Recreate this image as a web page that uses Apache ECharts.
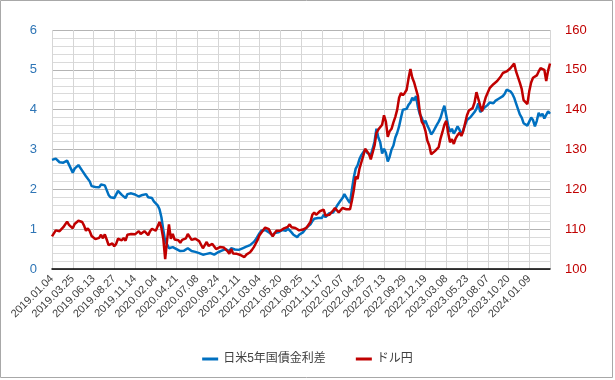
<!DOCTYPE html>
<html><head><meta charset="utf-8">
<script src="https://cdn.jsdelivr.net/npm/echarts@6/dist/echarts.min.js"></script>
<style>html,body{margin:0;padding:0;background:#fff}#c{width:615px;height:380px}</style>
</head><body><div id="c"></div>
<script>
// Tick labels on the x axis (one every 11 data points)
const tickLabels = ['2019.01.04','2019.03.25','2019.06.13','2019.08.27','2019.11.14','2020.02.04','2020.04.21','2020.07.08','2020.09.24','2020.12.11','2021.03.04','2021.05.20','2021.08.25','2021.11.17','2022.02.07','2022.04.25','2022.07.13','2022.09.29','2022.12.19','2023.03.08','2023.05.23','2023.08.07','2023.10.20','2024.01.09'];
const STEP = 11;

// 日米5年国債金利差 (%), left axis
const spread = [
2.74,2.70,2.77,2.72,2.68,2.64,2.67,2.65,2.72,2.62,2.60,
2.42,2.52,2.55,2.61,2.56,2.47,2.44,2.33,2.36,2.20,2.08,
2.12,2.06,2.10,2.05,2.12,2.08,2.10,1.98,1.86,1.80,1.83,
1.78,1.80,1.96,1.98,1.86,1.82,1.78,1.88,1.87,1.90,1.89,
1.87,1.84,1.82,1.80,1.86,1.90,1.88,1.80,1.76,1.78,1.70,
1.66,1.60,1.50,1.30,0.98,0.70,0.62,0.52,0.48,0.55,0.50,
0.50,0.47,0.45,0.48,0.46,0.44,0.52,0.55,0.45,0.42,0.43,
0.42,0.40,0.38,0.36,0.33,0.38,0.37,0.40,0.38,0.36,0.38,
0.42,0.43,0.46,0.44,0.50,0.47,0.45,0.52,0.48,0.49,0.50,
0.48,0.50,0.52,0.55,0.56,0.58,0.60,0.64,0.68,0.74,0.82,
0.90,0.96,1.00,0.98,0.96,0.92,0.88,0.84,0.90,0.94,0.92,
0.95,0.98,1.00,0.96,1.02,0.98,0.92,0.86,0.82,0.80,0.86,
0.90,0.92,0.96,1.04,1.08,1.12,1.20,1.26,1.22,1.28,1.32,
1.28,1.36,1.30,1.34,1.40,1.36,1.42,1.48,1.58,1.62,1.72,
1.78,1.88,1.80,1.72,1.66,2.00,2.30,2.52,2.60,2.76,2.86,
2.88,3.00,2.92,2.90,2.86,3.02,3.20,3.52,3.30,3.18,2.90,
3.02,2.92,2.70,2.82,3.00,3.10,3.30,3.42,3.58,3.80,4.00,
3.96,4.02,4.12,4.18,4.30,4.24,4.34,4.06,3.88,3.80,3.66,
3.72,3.60,3.50,3.38,3.44,3.40,3.62,3.70,3.80,3.96,4.10,
4.08,3.60,3.44,3.52,3.40,3.48,3.58,3.50,3.36,3.40,3.62,
3.74,3.76,3.82,3.86,3.94,4.02,4.16,3.94,3.98,4.04,4.08,
4.12,4.18,4.20,4.16,4.22,4.20,4.28,4.32,4.34,4.40,4.50,
4.52,4.46,4.40,4.30,4.16,4.12,3.88,3.80,3.66,3.62,3.60,
3.70,3.80,3.74,3.58,3.72,3.92,3.84,3.90,3.78,3.82,3.96,3.90
];

// ドル円 (yen), right axis
const usdjpy = [
108.2,108.6,109.7,109.4,109.5,109.8,110.5,110.7,111.9,111.1,111.6,
110.2,111.3,111.6,112.1,112.6,111.8,110.9,109.6,110.2,109.5,108.3,
108.4,107.5,107.9,107.8,108.6,107.7,108.7,107.4,106.0,105.9,106.4,
105.7,106.3,107.6,108.1,107.2,107.8,107.1,108.6,108.5,108.8,109.2,
108.7,108.6,109.5,108.8,108.9,109.5,109.5,108.5,109.5,110.1,109.6,
109.6,109.9,111.8,110.3,107.6,102.5,107.2,111.2,107.6,108.8,107.4,
107.6,107.2,106.6,107.3,107.6,107.7,108.8,109.3,107.3,106.8,107.6,
107.2,107.0,107.1,105.2,105.6,106.8,105.8,106.1,106.3,106.0,105.0,
105.4,105.5,106.0,105.4,104.9,104.5,103.8,105.0,103.9,104.1,103.8,
103.8,103.5,103.3,103.0,103.6,103.9,104.2,104.8,105.5,106.4,107.3,
108.5,109.0,109.8,110.4,110.8,110.0,109.0,108.2,109.0,109.6,109.3,
109.6,109.8,110.2,109.9,110.6,111.2,110.5,110.0,110.3,109.8,109.7,
109.8,109.9,110.0,110.4,111.1,111.8,113.6,114.2,113.6,113.9,114.5,
114.4,114.9,113.4,113.2,113.6,113.8,114.7,115.3,115.6,114.2,114.3,
115.3,115.6,115.0,115.3,115.0,117.2,119.8,123.2,122.6,125.2,126.8,
128.4,130.2,130.0,128.9,127.5,127.2,131.0,134.2,135.0,135.4,136.2,
138.6,137.0,133.2,134.6,135.2,136.8,138.2,140.0,143.0,144.2,143.6,
144.2,145.0,147.8,150.2,148.0,146.8,147.2,143.4,139.4,137.0,136.2,
134.6,132.2,131.0,128.8,129.2,129.6,130.0,130.6,132.8,134.4,136.2,
137.2,134.2,131.8,132.6,131.4,132.8,133.6,134.2,133.4,134.6,136.6,
138.6,139.8,139.6,140.4,141.8,144.4,144.8,141.0,139.6,141.6,143.2,
143.6,145.4,145.8,146.4,146.2,147.2,147.6,148.4,149.2,149.4,149.6,
149.8,150.4,150.0,151.6,149.6,149.2,146.8,145.2,142.4,142.6,141.4,
144.6,146.8,148.0,147.8,148.6,149.6,150.4,150.2,150.0,147.2,149.8,151.6
];

const seriesNames = ['日米5年国債金利差', 'ドル円'];

const categories = spread.map((_, i) => {
  const b = Math.floor(i / STEP), k = i % STEP;
  if (k === 0 && b < tickLabels.length) return tickLabels[b];
  const base = tickLabels[Math.min(b, tickLabels.length - 1)];
  return base + '+' + (b >= tickLabels.length ? STEP + k : k);
});

const FONT = '"Liberation Sans", Arial, "Noto Sans CJK JP", sans-serif';
const chart = echarts.init(document.getElementById('c'), null, {renderer: 'canvas'});
chart.setOption({
  animation: false,
  backgroundColor: '#fff',
  textStyle: {fontFamily: FONT},
  grid: {left: 52, right: 65, top: 30, bottom: 111, containLabel: false},
  graphic: [{type: 'rect', silent: true, z: 100,
    shape: {x: 0.5, y: 0.5, width: 612, height: 377},
    style: {fill: 'none', stroke: '#a8a8a8', lineWidth: 1}}],
  legend: {
    data: seriesNames, left: 'center', top: 348,
    icon: 'rect', itemWidth: 16, itemHeight: 3, itemGap: 30,
    textStyle: {fontSize: 12, color: '#404040', fontFamily: FONT}
  },
  xAxis: {
    type: 'category', data: categories, boundaryGap: false,
    axisLine: {lineStyle: {color: '#000', width: 1.5}},
    axisTick: {show: false},
    axisLabel: {
      interval: STEP - 1, rotate: 45, fontSize: 11, color: '#404040', margin: 8,
      formatter: (v, i) => (i % STEP === 0 && i / STEP < tickLabels.length) ? tickLabels[i / STEP] : ''
    },
    splitLine: {show: true, interval: STEP - 1, lineStyle: {color: '#d6d6d6', width: 1}}
  },
  yAxis: [
    {type: 'value', min: 0, max: 6, interval: 1, position: 'left',
     axisLine: {show: false}, axisTick: {show: false},
     axisLabel: {color: '#2E75B6', fontSize: 13, margin: 15},
     splitLine: {lineStyle: {color: '#b4b4b4', width: 1}},
     minorTick: {show: false, splitNumber: 5},
     minorSplitLine: {show: true, lineStyle: {color: '#dadada', width: 1}}},
    {type: 'value', min: 100, max: 160, interval: 10, position: 'right',
     axisLine: {show: false}, axisTick: {show: false},
     axisLabel: {color: '#C00000', fontSize: 13, margin: 15},
     splitLine: {show: false}}
  ],
  series: [
    {name: seriesNames[0], type: 'line', data: spread, yAxisIndex: 0,
     showSymbol: false, color: '#0070C0', lineStyle: {width: 2.5, color: '#0070C0'}},
    {name: seriesNames[1], type: 'line', data: usdjpy, yAxisIndex: 1,
     showSymbol: false, color: '#C00000', lineStyle: {width: 2.5, color: '#C00000'}}
  ]
});
</script></body></html>
